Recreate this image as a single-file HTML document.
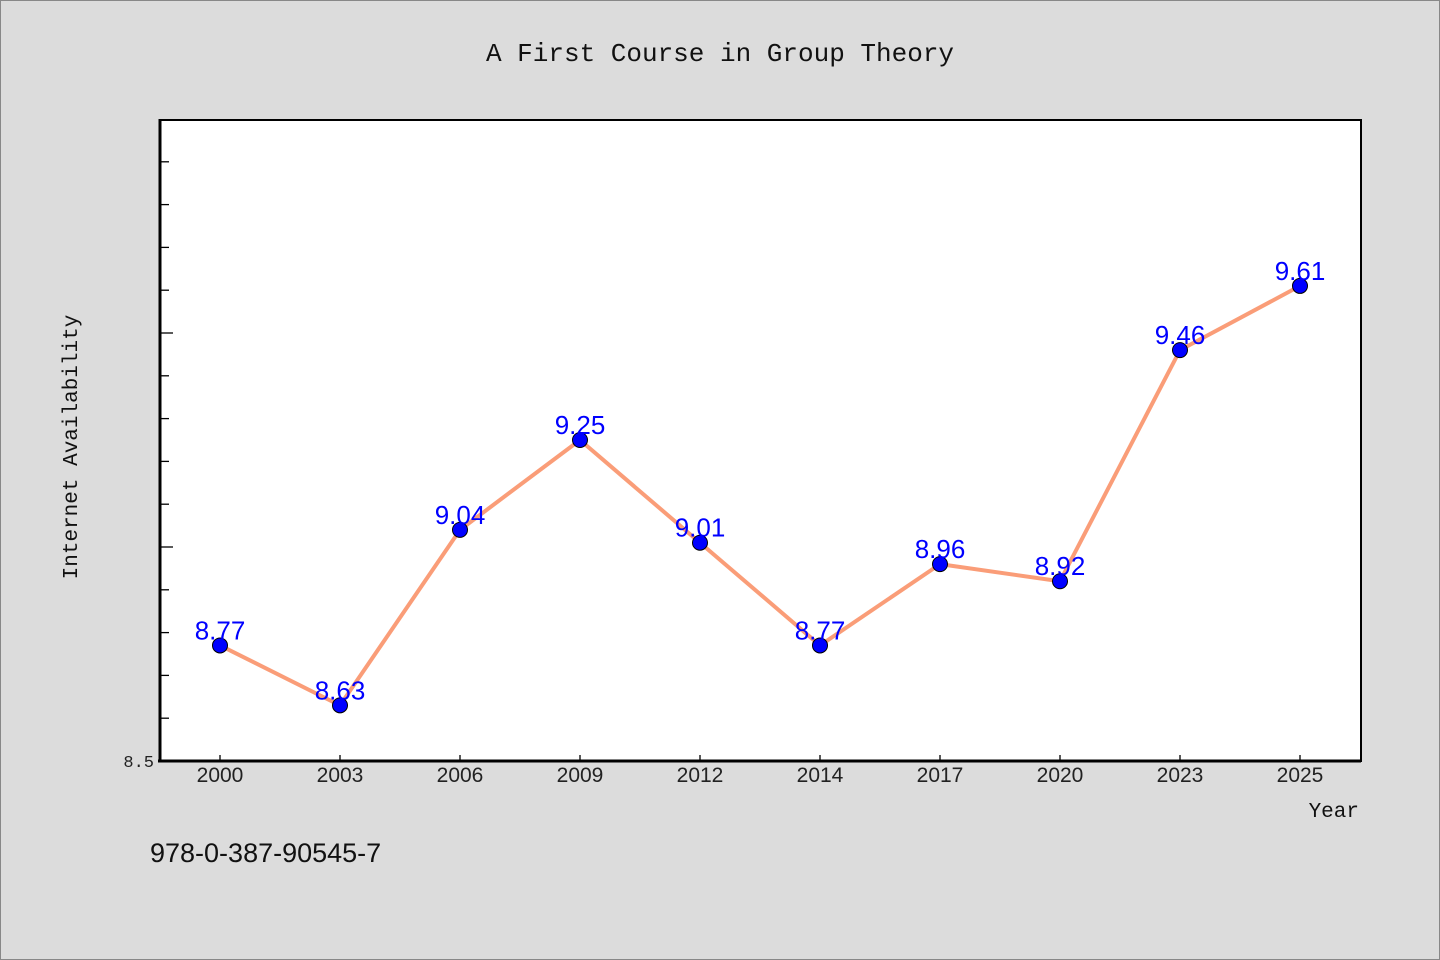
<!DOCTYPE html>
<html><head><meta charset="utf-8"><style>
body{margin:0;background:#dcdcdc;}
svg{display:block;font-family:"Liberation Mono","DejaVu Sans Mono",monospace;}
</style></head><body>
<svg width="1440" height="960">
<rect x="0.5" y="0.5" width="1439" height="959" fill="#dcdcdc" stroke="#888"/>
<text x="720" y="61" text-anchor="middle" font-size="26" fill="#111">A First Course in Group Theory</text>
<rect x="160" y="120" width="1201" height="641" fill="#fff" stroke="#000" stroke-width="2"/>
<line x1="160" y1="119" x2="160" y2="762" stroke="#000" stroke-width="3"/>
<line x1="158" y1="761" x2="1361" y2="761" stroke="#000" stroke-width="3"/>
<g id="yticks"></g><g id="xticks"></g>
<text x="77" y="447" transform="rotate(-90 77 447)" text-anchor="middle" font-size="21" fill="#111">Internet Availability</text>
<text x="1359" y="817" text-anchor="end" font-size="21" fill="#111">Year</text>
<text x="150" y="862" font-family="Liberation Sans, sans-serif" font-size="27" fill="#111">978-0-387-90545-7</text>
<g id="series"></g>
</svg>
<script>
const categories=["2000","2003","2006","2009","2012","2014","2017","2020","2023","2025"];
const values=[8.77,8.63,9.04,9.25,9.01,8.77,8.96,8.92,9.46,9.61];
const yMin=8.5,yMax=10.0;
const yTickLabels=["8.5"];
const NS="http://www.w3.org/2000/svg";
const x=i=>220+i*120;
const y=v=>761-(v-yMin)/(yMax-yMin)*642;
function mk(t,a,p){const e=document.createElementNS(NS,t);for(const k in a)e.setAttribute(k,a[k]);p.appendChild(e);return e;}
const yt=document.getElementById('yticks');
for(let k=1;k<15;k++){const v=yMin+k*0.1;const major=k%5===0;
const l=mk('line',{x1:161,x2:major?173:169,y1:y(v),y2:y(v),stroke:'#000','stroke-width':1.3},yt);

}
yTickLabels.forEach(s=>{const t=mk('text',{x:154,y:y(parseFloat(s))+6,'text-anchor':'end','font-size':17,fill:'#222'},yt);t.textContent=s;

});
const xt=document.getElementById('xticks');
categories.forEach((c,i)=>{const l=mk('line',{x1:x(i),x2:x(i),y1:755,y2:761,stroke:'#000','stroke-width':1.3},xt);


const t=mk('text',{x:x(i),y:782,'text-anchor':'middle','font-size':21,fill:'#222','font-family':'Liberation Sans, sans-serif'},xt);t.textContent=c;

});
const g=document.getElementById('series');
const pl=mk('polyline',{points:values.map((v,i)=>x(i)+','+y(v)).join(' '),fill:'none',stroke:'#fa9d78','stroke-width':4,'stroke-linejoin':'round'},g);


values.forEach((v,i)=>{const c=mk('circle',{cx:x(i),cy:y(v),r:7.5,fill:'#0000ff',stroke:'#000','stroke-width':1},g);


const t=mk('text',{x:x(i),y:y(v)-6,'text-anchor':'middle','font-size':26,fill:'#0000ff','font-family':'Liberation Sans, sans-serif'},g);t.textContent=v.toFixed(2);

});
</script>
</body></html>
